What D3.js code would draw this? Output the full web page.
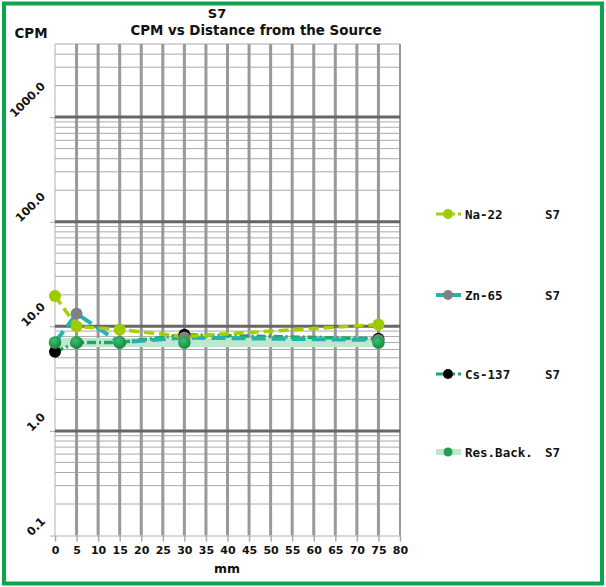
<!DOCTYPE html>
<html><head><meta charset="utf-8">
<script src="https://cdn.jsdelivr.net/npm/d3@7"></script>
<style>
html,body{margin:0;padding:0;background:#fff;}
svg{display:block;}
</style></head>
<body>
<script>
const distances = [0, 5, 15, 30, 75];
const na22 = [19.5, 10.0, 9.3, 8.0, 10.4];
const zn65 = [7.0, 13.2, 7.0, 7.8, 7.4];
const cs137 = [5.7, 7.0, 7.0, 8.3, 7.6];
const resBack = [7.0, 7.0, 7.0, 7.0, 7.0];
const xTicks = d3.range(0, 81, 5);
const yTickValues = [0.1, 1, 10, 100, 1000];
const yTickLabels = ["0.1", "1.0", "10.0", "100.0", "1000.0"];
const seriesNames = ["Na-22", "Zn-65", "Cs-137", "Res.Back."];
const sampleName = "S7";

const W = 606, H = 587;
const SANS = "'DejaVu Sans', sans-serif";
const MONO = "'DejaVu Sans Mono', monospace";
const svg = d3.select("body").append("svg").attr("width", W).attr("height", H);

function txt(g, xx, yy, s, size, fam, anchor) {
  return g.append("text").attr("x", xx).attr("y", yy).attr("text-anchor", anchor || "start")
    .style("font-family", fam || SANS).style("font-weight", "bold").style("font-size", size + "px")
    .attr("fill", "#111").text(s);
}

// border
svg.append("rect").attr("x", 4).attr("y", 3.5).attr("width", 598).attr("height", 580)
  .attr("fill", "none").attr("stroke", "#0ba64b").attr("stroke-width", 4);

const x = d3.scaleLinear().domain([0, 80]).range([55, 400]);
const y = d3.scaleLog().domain([0.1, 5000]).range([535.5, 44]);

// minor horizontal grid
const minors = [];
for (let e = -1; e <= 3; e++) for (let m = 2; m <= 9; m++) { const v = m * Math.pow(10, e); if (v <= 5000) minors.push(v); }
svg.append("g").selectAll("line").data(minors).join("line")
  .attr("x1", x(0)).attr("x2", x(80)).attr("y1", d => y(d)).attr("y2", d => y(d))
  .attr("stroke", "#aaa").attr("stroke-width", 1);

// vertical grid
svg.append("g").selectAll("line").data(xTicks.slice(1, -1)).join("line")
  .attr("x1", d => x(d)).attr("x2", d => x(d)).attr("y1", y(5000)).attr("y2", y(0.1))
  .attr("stroke", "#999").attr("stroke-width", 3);
// plot edges
svg.append("line").attr("x1", x(0)).attr("x2", x(0)).attr("y1", y(5000)).attr("y2", y(0.1)).attr("stroke", "#b0b0b0");
svg.append("line").attr("x1", x(80)).attr("x2", x(80)).attr("y1", y(5000)).attr("y2", y(0.1)).attr("stroke", "#999").attr("stroke-width", 2);

// major horizontal grid
svg.append("g").selectAll("line").data(yTickValues.slice(1)).join("line")
  .attr("x1", x(0)).attr("x2", x(80)).attr("y1", d => y(d)).attr("y2", d => y(d))
  .attr("stroke", "#666").attr("stroke-width", 3);

// x axis
const xAxis = svg.append("g").attr("transform", `translate(0,${y(0.1)})`)
  .call(d3.axisBottom(x).tickValues(xTicks).tickSize(6).tickPadding(5));
xAxis.select(".domain").attr("stroke", "#b0b0b0");
xAxis.selectAll(".tick line").attr("stroke", "#aaa").attr("stroke-width", 1.5);
xAxis.selectAll(".tick text").style("font-size", "11px").style("font-family", SANS).style("font-weight", "bold").attr("fill", "#111");

// y axis ticks
const yAxis = svg.append("g").attr("transform", `translate(${x(0)},0)`)
  .call(d3.axisLeft(y).tickValues(yTickValues).tickFormat("").tickSize(5));
yAxis.select(".domain").remove();
yAxis.selectAll(".tick line").attr("stroke", "#aaa");

// rotated y labels: bbox right edge near x=45, bottom at gridline
yTickValues.forEach((v, i) => {
  const t = txt(svg, 0, 0, yTickLabels[i], 11.5, SANS, "start");
  const L = t.node().getComputedTextLength();
  const d = L / Math.SQRT2;
  const sx = 46 - d, sy = y(v) + 1;
  t.attr("x", sx).attr("y", sy).attr("transform", `rotate(-45,${sx},${sy})`);
});

// titles
txt(svg, 217, 18, sampleName, 13, SANS, "middle");
txt(svg, 256, 35, "CPM vs Distance from the Source", 13.4, SANS, "middle");
txt(svg, 31, 38, "CPM", 13.4, SANS, "middle");
txt(svg, 227, 573, "mm", 12.5, SANS, "middle");

const pts = arr => distances.map((d, i) => [x(d), y(arr[i])]);
const line = d3.line();

// Res.Back. band
svg.append("path").attr("d", line(pts(resBack))).attr("fill", "none").attr("stroke", "#bde8cf").attr("stroke-width", 9);
// Cs-137
svg.append("path").attr("d", line(pts(cs137))).attr("fill", "none").attr("stroke", "#1ea664").attr("stroke-width", 3.5).attr("stroke-dasharray", "9,3,2,3");
// Zn-65
svg.append("path").attr("d", line(pts(zn65))).attr("fill", "none").attr("stroke", "#22b4ac").attr("stroke-width", 4).attr("stroke-dasharray", "14,6");
// Na-22
svg.append("path").attr("d", line(pts(na22))).attr("fill", "none").attr("stroke", "#a6d000").attr("stroke-width", 3.5).attr("stroke-dasharray", "10,5");

const defs = svg.append("defs");
const g1 = defs.append("radialGradient").attr("id", "gres").attr("cx", "40%").attr("cy", "35%").attr("r", "65%");
g1.append("stop").attr("offset", "0%").attr("stop-color", "#3cc070");
g1.append("stop").attr("offset", "100%").attr("stop-color", "#17893f");

function markers(arr, fill, r, skip) {
  svg.append("g").selectAll("circle").data(pts(arr).filter((d, i) => !(skip || []).includes(i))).join("circle")
    .attr("cx", d => d[0]).attr("cy", d => d[1]).attr("r", r).attr("fill", fill);
}
markers(na22, "#9ccc00", 6, [0, 1, 2, 4]);
markers(cs137, "#000", 6);
markers(zn65, "#808080", 6);
markers(resBack, "url(#gres)", 6.3);
markers(na22, "#9ccc00", 6, [3]);

// legend
const legY = [214, 295, 374, 452];
const leg = svg.append("g");
const legendStyles = [
  {stroke: "#a6d000", w: 3, dash: "14,3,2,3", fill: "#9ccc00", r: 5},
  {stroke: "#22b4ac", w: 4, dash: null, fill: "#808080", r: 5},
  {stroke: "#1ea664", w: 3, dash: "14,3,2,3", fill: "#000", r: 5},
  {stroke: "#bde8cf", w: 6, dash: null, fill: "#1fa24f", r: 4.5}
];
seriesNames.forEach((n, i) => {
  const s = legendStyles[i];
  const l = leg.append("line").attr("x1", 436).attr("x2", 461).attr("y1", legY[i]).attr("y2", legY[i])
    .attr("stroke", s.stroke).attr("stroke-width", s.w);
  if (s.dash) l.attr("stroke-dasharray", s.dash);
  leg.append("circle").attr("cx", 448).attr("cy", legY[i]).attr("r", s.r).attr("fill", s.fill);
  txt(leg, 465, legY[i] + 4.5, n, 12.5, MONO);
  txt(leg, 545, legY[i] + 4.5, sampleName, 12.5, MONO);
});
</script>
</body></html>
